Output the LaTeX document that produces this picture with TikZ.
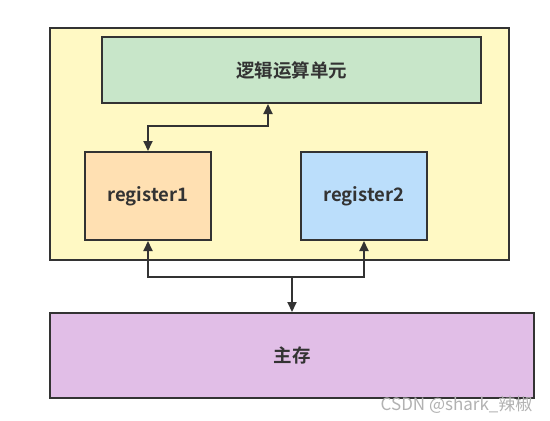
\documentclass[tikz,border=0pt]{standalone}
\usepackage{fontspec}
\setmainfont{Noto Sans CJK SC}[BoldFont={* Bold}]
\usetikzlibrary{arrows.meta}
\definecolor{edge}{HTML}{333333}
\definecolor{cpu}{HTML}{FFF9C4}
\definecolor{alu}{HTML}{C8E6C9}
\definecolor{rone}{HTML}{FFE0B2}
\definecolor{rtwo}{HTML}{BBDEFB}
\definecolor{mem}{HTML}{E1BEE7}
\tikzset{
  box/.style={draw=edge, line width=2pt, inner sep=0pt, font=\bfseries\fontsize{18.5}{20}\selectfont, text=edge},
  link/.style={draw=edge, line width=2pt, {Triangle[length=10pt,width=9pt]}-{Triangle[length=10pt,width=9pt]}},
  onelink/.style={draw=edge, line width=2pt, -{Triangle[length=10pt,width=9pt]}}
}
\begin{document}
\begin{tikzpicture}[x=1pt,y=-1pt]
\useasboundingbox[fill=white] (0,0) rectangle (550,421);
\node[box, fill=cpu, minimum width=459pt, minimum height=232pt] (cpu) at (279.5,144) {};
\node[box, fill=alu, minimum width=379pt, minimum height=66pt] (alu) at (291.5,70) {逻辑运算单元};
\node[box, fill=rone, minimum width=126pt, minimum height=88pt] (r1) at (148,196) {register1};
\node[box, fill=rtwo, minimum width=126pt, minimum height=88pt] (r2) at (364,196) {register2};
\node[box, fill=mem, minimum width=484pt, minimum height=85pt] (mem) at (292,355.5) {主存};
\coordinate (j1) at (268,126);
\coordinate (j2) at (292,277);
\draw[link] (r1.north) |- (j1) -- (j1 |- alu.south);
\draw[link] (r1.south) |- (j2) -| (r2.south);
\draw[onelink] (j2) -- (mem.north);
\node[text=gray!60, font=\fontsize{17}{19}\selectfont, anchor=east] (wm) at (536,405) {CSDN @shark\_辣椒};
\end{tikzpicture}
\end{document}
